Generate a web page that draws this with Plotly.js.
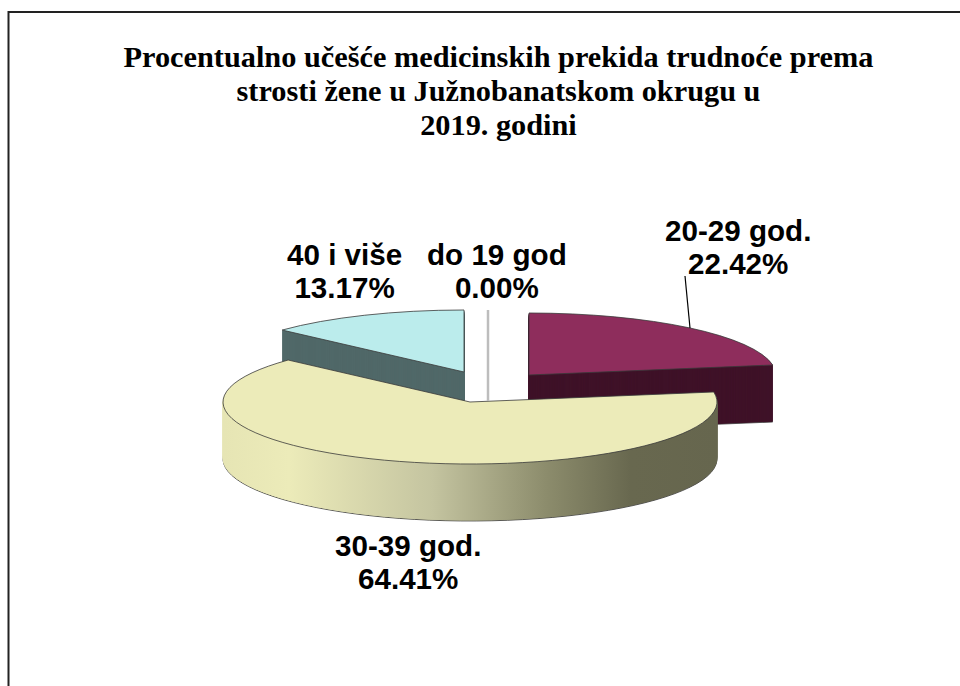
<!DOCTYPE html>
<html><head><meta charset="utf-8">
<script src="https://cdn.plot.ly/plotly-3.0.1.min.js"></script>
<style>html,body{margin:0;padding:0;background:#fff}#chart{width:960px;height:686px}</style>
</head><body><div id="chart"></div>
<script>
const categories = ["do 19 god", "20-29 god.", "30-39 god.", "40 i više"];
const values = [0.00, 22.42, 64.41, 13.17];
const topColors = ["#bdbdbd", "#8e2d5c", "#ecebb9", "#bbecec"];
const sideColors = ["#bdbdbd", "#3f1228", "#ecebb9", "#506868"];
const titleText = "Procentualno učešće medicinskih prekida trudnoće prema<br>strosti žene u Južnobanatskom okrugu u<br>2019. godini";

const W = 960, H = 686, R = 247, K = 62 / 247, DEPTH = 57, STEP = 1;
// where each exploded slice's apex sits on the page
const apex = [[488, 372], [529, 375], [470, 402], [464, 372]];
const drawOrder = [3, 1, 2];
const labelPos = [[497, 273], [738, 250], [408, 564], [344, 273]];

const traces = [], placement = [];
const dom = {x: [(W / 2 - R) / W, (W / 2 + R) / W], y: [(H / 2 - R) / H, (H / 2 + R) / H]};
drawOrder.forEach(idx => {
  const layers = [];
  for (let d = DEPTH; d > 0; d -= STEP) layers.push(d);
  layers.push(0);
  layers.forEach(d => {
    const isTop = d === 0;
    traces.push({
      type: "pie", labels: categories, values: values, sort: false, direction: "clockwise",
      rotation: 0, domain: dom, textinfo: "none", hoverinfo: "skip", showlegend: false,
      marker: {
        colors: categories.map((c, i) => i === idx ? (isTop ? topColors[i] : sideColors[i]) : "rgba(0,0,0,0)"),
        line: {
          color: categories.map((c, i) => i !== idx ? "rgba(0,0,0,0)" : (isTop || d === DEPTH ? "#3a3a3a" : sideColors[i])),
          width: categories.map((c, i) => i === idx ? (isTop || d === DEPTH ? 0.8 : 1) : 0)
        }
      }
    });
    placement.push({idx, d});
  });
});

const annotations = categories.map((c, i) => ({
  xref: "paper", yref: "paper", x: labelPos[i][0] / W, y: 1 - labelPos[i][1] / H,
  xanchor: "center", yanchor: "middle", showarrow: false, align: "center",
  text: c + "<br>" + values[i].toFixed(2) + "%",
  font: {family: "Liberation Sans, Arial, sans-serif", size: 29.6, color: "#000", weight: 700}
}));

const layout = {
  width: W, height: H, margin: {l: 0, r: 0, t: 0, b: 0},
  paper_bgcolor: "#fff", showlegend: false,
  title: {
    text: titleText, x: 498.5 / W, xanchor: "center", y: 1 - 68 / H, yanchor: "baseline",
    font: {family: "Liberation Serif, Times New Roman, serif", size: 30.3, color: "#000", weight: 700}
  },
  annotations,
  shapes: [
    {type: "rect", xref: "paper", yref: "paper", x0: 8.5 / W, x1: 1.05, y0: -0.05, y1: 1 - 12 / H,
     line: {color: "#222", width: 2}, fillcolor: "rgba(0,0,0,0)"},
    {type: "line", xref: "paper", yref: "paper", x0: 685 / W, y0: 1 - 276 / H, x1: 690 / W, y1: 1 - 328 / H,
     line: {color: "#000", width: 1.2}},
    // the 0.00% slice has no area: it shows only as its thin edge
    {type: "line", xref: "paper", yref: "paper", x0: 488 / W, y0: 1 - 310 / H, x1: 488 / W, y1: 1 - 401 / H,
     line: {color: "#bdbdbd", width: 2.5}}
  ]
};

const gd = document.getElementById("chart");
Plotly.newPlot(gd, traces, layout, {displayModeBar: false, staticPlot: true}).then(() => {
  const svg = gd.querySelector("svg.main-svg");
  const NS = "http://www.w3.org/2000/svg";
  // wall shading for the big slice
  const defs = document.createElementNS(NS, "defs");
  const grad = document.createElementNS(NS, "linearGradient");
  grad.setAttribute("id", "wall");
  grad.setAttribute("gradientUnits", "userSpaceOnUse");
  const dx = apex[2][0] - W / 2;
  grad.setAttribute("x1", 224 - dx); grad.setAttribute("x2", 720 - dx);
  grad.setAttribute("y1", 0); grad.setAttribute("y2", 0);
  [[0, "#e6e5b4"], [0.13, "#ecebb9"], [0.42, "#c4c4a0"], [0.65, "#8c8c6c"], [0.82, "#68684f"], [1, "#66664e"]].forEach(s => {
    const st = document.createElementNS(NS, "stop");
    st.setAttribute("offset", s[0]); st.setAttribute("stop-color", s[1]);
    grad.appendChild(st);
  });
  defs.appendChild(grad); svg.insertBefore(defs, svg.firstChild);

  const groups = gd.querySelectorAll(".pielayer g.trace");
  groups.forEach((g, i) => {
    const p = placement[i];
    const a = apex[p.idx];
    g.setAttribute("transform",
      "translate(" + (a[0] - W / 2) + "," + (a[1] + p.d - (H / 2) * K) + ") scale(1," + K + ")");
    g.querySelectorAll("path").forEach(path => {
      path.style.vectorEffect = "non-scaling-stroke";
      if (p.idx === 2 && p.d !== 0 && path.style.fill && !/, ?0\)$/.test(path.style.fill)) {
        path.style.fill = "url(#wall)";
        if (p.d !== DEPTH) path.style.stroke = "url(#wall)";
      }
    });
  });
  // tighter line spacing, as in the original
  gd.querySelectorAll(".annotation-text-g text").forEach(t => {
    const lines = t.querySelectorAll("tspan.line");
    if (!lines.length) return;
    const y0 = parseFloat(lines[0].getAttribute("y"));
    lines.forEach((l, i) => { l.removeAttribute("dy"); l.setAttribute("y", y0 + i * 33); });
  });
  const titleBaselines = [67, 101, 135];
  const tt = gd.querySelector("text.gtitle");
  if (tt) {
    tt.removeAttribute("transform");
    tt.removeAttribute("dy");
    tt.setAttribute("y", titleBaselines[0]);
    const lines = tt.querySelectorAll("tspan.line");
    lines.forEach((l, j) => {
      l.removeAttribute("dy");
      l.setAttribute("y", titleBaselines[titleBaselines.length - lines.length + j]);
    });
  }
});
</script></body></html>
